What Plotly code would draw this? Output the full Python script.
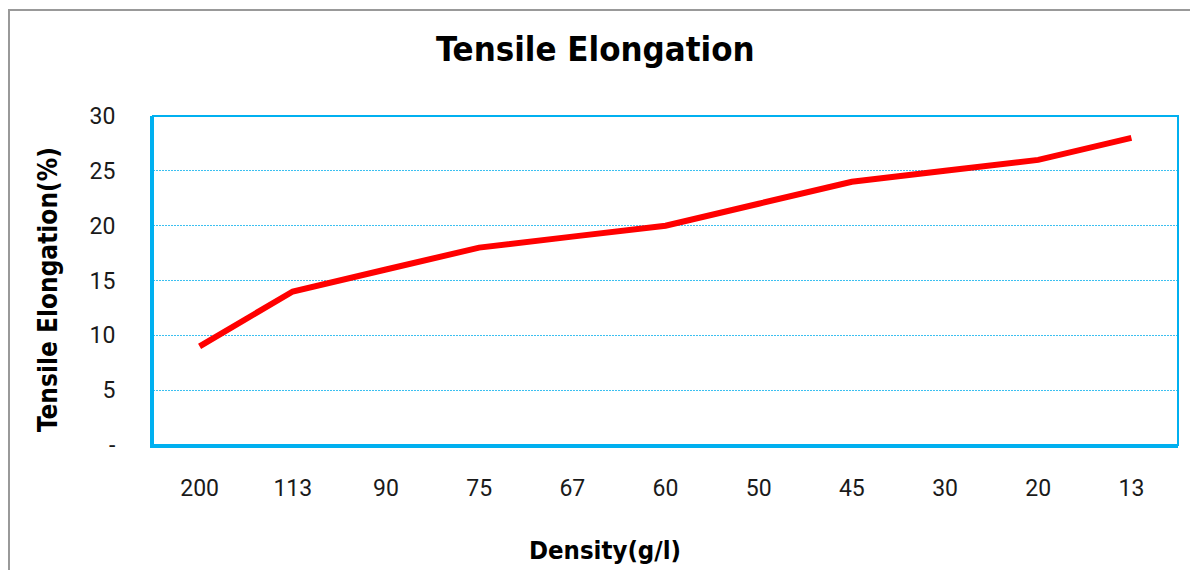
import plotly.graph_objects as go

densities = ["200", "113", "90", "75", "67", "60", "50", "45", "30", "20", "13"]
elongation = [9, 14, 16, 18, 19, 20, 22, 24, 25, 26, 28]
y_tick_vals = [0, 5, 10, 15, 20, 25, 30]
y_tick_text = ["-", "5", "10", "15", "20", "25", "30"]

BLUE = "#00B0F0"
NARROW = "DejaVu Sans Condensed, Liberation Sans Narrow, sans-serif"

fig = go.Figure()
fig.add_trace(go.Scatter(
    x=densities, y=elongation, mode="lines",
    line=dict(color="#FF0000", width=6),
    showlegend=False,
))

fig.update_layout(
    width=1198, height=570,
    margin=dict(l=145, r=28, t=108, b=133),
    paper_bgcolor="white", plot_bgcolor="white",
    xaxis=dict(
        type="category", range=[-0.5, 10.5],
        showline=True, linecolor=BLUE, linewidth=3,
        showgrid=False, ticks="", ticklabelstandoff=20,
        tickfont=dict(family="Roboto, sans-serif", size=23, color="#1a1a1a"),
    ),
    yaxis=dict(
        range=[0, 30], tickvals=y_tick_vals, ticktext=y_tick_text,
        showline=True, linecolor=BLUE, linewidth=3,
        showgrid=True, gridcolor="#3CC0F0", gridwidth=1, griddash="2px,1px",
        zeroline=False, ticks="", ticklabelstandoff=30,
        tickfont=dict(family="Roboto, sans-serif", size=23, color="#1a1a1a"),
    ),
    annotations=[
        dict(text="<b>Tensile Elongation</b>", xref="paper", yref="paper",
             x=0.432, y=1.205, xanchor="center", yanchor="middle", showarrow=False,
             font=dict(family=NARROW, size=34.5, color="black")),
        dict(text="<b>Density(g/l)</b>", xref="paper", yref="paper",
             x=0.441, y=-0.319, xanchor="center", yanchor="middle", showarrow=False,
             font=dict(family=NARROW, size=25.5, color="black")),
        dict(text="<b>Tensile Elongation(%)</b>", xref="paper", yref="paper",
             x=-0.1024, y=0.471, xanchor="center", yanchor="middle", showarrow=False,
             textangle=-90,
             font=dict(family=NARROW, size=26, color="black")),
    ],
    shapes=[
        dict(type="rect", xref="paper", yref="paper", x0=0, x1=1, y0=0, y1=1,
             line=dict(color=BLUE, width=2)),
        dict(type="rect", xref="paper", yref="paper", x0=-0.1405, x1=1.3, y0=-0.8, y1=1.3222,
             line=dict(color="#999999", width=2)),
    ],
)

fig.write_html("out.html")
